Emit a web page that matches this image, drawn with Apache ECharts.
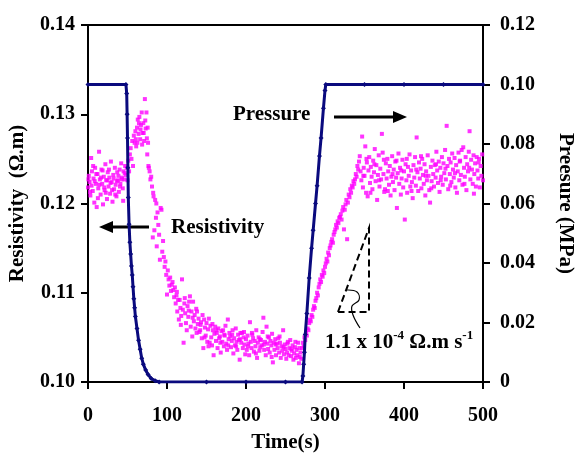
<!DOCTYPE html>
<html><head><meta charset="utf-8">
<script src="https://cdn.jsdelivr.net/npm/echarts/dist/echarts.min.js"></script>
<style>html,body{margin:0;padding:0;background:#fff}#c{width:576px;height:458px}</style>
</head><body><div id="c"></div>
<script>
// ---- Data ----
const xMin = 0, xMax = 500, xStep = 100;
const resMin = 0.10, resMax = 0.14, resStep = 0.01;
const presMin = 0, presMax = 0.12, presStep = 0.02;

// Pressure (MPa) vs time (s)
const pressure = [[0,0.100],[48,0.100],[49,0.097],[49.5,0.090],[50,0.082],[50.5,0.072],[51,0.062],[52,0.053],[53,0.047],[54,0.043],[55,0.039],[56,0.036],[57,0.032],[58,0.028],[59,0.025],[60,0.022],[62,0.018],[64,0.014],[66,0.011],[68,0.008],[70,0.006],[73,0.004],[76,0.0025],[80,0.0012],[85,0.0004],[90,0],[150,0],[200,0],[250,0],[271,0],[272,0.002],[273,0.006],[274,0.010],[275,0.016],[277,0.023],[280,0.035],[283,0.045],[285,0.051],[288,0.060],[290,0.066],[293,0.076],[295,0.082],[298,0.092],[300,0.098],[301,0.100],[350,0.100],[400,0.100],[450,0.100],[500,0.100]];

// Resistivity (Ohm.m) vs time (s)
const resBefore = [[0,0.1218],[1,0.1231],[2,0.1224],[3,0.1209],[4,0.1251],[5,0.1236],[6,0.1214],[7,0.1228],[8,0.1201],[9,0.1240],[10,0.1222],[11,0.1196],[12,0.1233],[13,0.1217],[14,0.1258],[15,0.1227],[16,0.1210],[17,0.1238],[18,0.1222],[19,0.1199],[20,0.1230],[21,0.1215],[22,0.1244],[23,0.1226],[24,0.1205],[25,0.1235],[26,0.1219],[27,0.1229],[28,0.1211],[29,0.1247],[30,0.1224],[31,0.1202],[32,0.1232],[33,0.1216],[34,0.1240],[35,0.1221],[36,0.1208],[37,0.1235],[38,0.1226],[39,0.1213],[40,0.1238],[41,0.1222],[42,0.1245],[43,0.1229],[44,0.1217],[45,0.1236],[46,0.1227],[47,0.1242],[48,0.1232],
[0.5,0.1227],[2.5,0.1213],[4.5,0.1220],[6.5,0.1242],[8.5,0.1225],[10.5,0.1233],[12.5,0.1206],[14.5,0.1221],[16.5,0.1229],[18.5,0.1237],[20.5,0.1218],[22.5,0.1212],[24.5,0.1226],[26.5,0.1238],[28.5,0.1223],[30.5,0.1215],[32.5,0.1228],[34.5,0.1210],[36.5,0.1225],[38.5,0.1231],[40.5,0.1219],[42.5,0.1227],[44.5,0.1203],[46.5,0.1234]];

const resPeak = [[49,0.1240],[50,0.1226],[51,0.1248],[52,0.1236],[53,0.1255],[54,0.1262],[55,0.1250],[56,0.1270],[57,0.1242],[58,0.1276],[59,0.1268],[60,0.1281],[61,0.1264],[62,0.1285],[63,0.1294],[64,0.1278],[65,0.1297],[66,0.1272],[67,0.1288],[68,0.1302],[69,0.1279],[70,0.1290],[71,0.1270],[72,0.1317],[73,0.1284],[74,0.1302],[75,0.1255],[76,0.1268],[76.5,0.1242],[77,0.1240],
[60.5,0.1272],[62.5,0.1268],[64.5,0.1290],[66.5,0.1283],[68.5,0.1266],[70.5,0.1279],[72.5,0.1293],[74.5,0.1273],[75.5,0.1285],
[78,0.1236],[79,0.1227],[80,0.1230],[81,0.1219],[82,0.1162],[82.5,0.1212],[83,0.1208],[84,0.1170],[85,0.1204],[86,0.1184],[86.5,0.1200],[87,0.1152],[88,0.1190],[89,0.1176],[90,0.1165],[91,0.1137],[92,0.1195],[93,0.1193],[94,0.1146],[95,0.1158],[96,0.1140],[97,0.1129],[98,0.1135],[99,0.1120],[100,0.1098],[101,0.1125],[102,0.1115],[103,0.1108],[104,0.1117],[105,0.1102],[106,0.1109],[107,0.1112],[108,0.1103],[109,0.1095],[110,0.1106]];

const resLow = [[111,0.1088],[112,0.1097],[113,0.1079],[114,0.1092],[115,0.1070],[116,0.1092],[117,0.1083],[118,0.1074],[119,0.1115],[120,0.1081],[121,0.1044],[122,0.1088],[123,0.1077],[124,0.1066],[125,0.1058],[126,0.1085],[127,0.1073],[128,0.1090],[129,0.1096],[130,0.1062],[131,0.1079],[132,0.1051],[133,0.1090],[134,0.1068],[135,0.1075],[136,0.1060],[137,0.1082],[138,0.1079],[139,0.1065],[140,0.1071],
[141,0.1056],[142,0.1058],[143,0.1067],[144,0.1049],[145,0.1075],[146,0.1038],[147,0.1070],[148,0.1061],[149,0.1052],[150,0.1066],[151,0.1045],[152,0.1059],[153,0.1071],[154,0.1044],[155,0.1063],[156,0.1050],[157,0.1041],[158,0.1058],[159,0.1030],[160,0.1054],[161,0.1062],[162,0.1046],[163,0.1055],[164,0.1038],[165,0.1060],[166,0.1049],[167,0.1051],[168,0.1033],[169,0.1057],[170,0.1045],[171,0.1058],[172,0.1040],[173,0.1052],[174,0.1063],[175,0.1043],[176,0.1036],[177,0.1070],[178,0.1048],[179,0.1055],[180,0.1051],[181,0.1039],[182,0.1046],[183,0.1058],[184,0.1032],[185,0.1049],[186,0.1041],[187,0.1060],[188,0.1045],[189,0.1036],[190,0.1053],[191,0.1047],[192,0.1025],[193,0.1055],[194,0.1044],[195,0.1055],[196,0.1038],[197,0.1050],[198,0.1042],[199,0.1031],[200,0.1048],
[201,0.1036],[202,0.1052],[203,0.1043],[204,0.1030],[205,0.1067],[206,0.1045],[207,0.1038],[208,0.1053],[209,0.1049],[210,0.1034],[211,0.1046],[212,0.1040],[213,0.1058],[214,0.1027],[215,0.1044],[216,0.1050],[217,0.1035],[218,0.1039],[219,0.1047],[220,0.1041],[221,0.1056],[222,0.1072],[223,0.1036],[224,0.1045],[225,0.1030],[226,0.1062],[227,0.1043],[228,0.1037],[229,0.1050],[230,0.1033],[231,0.1046],[232,0.1041],[233,0.1054],[234,0.1022],[235,0.1044],[236,0.1036],[237,0.1048],[238,0.1030],[239,0.1043],[240,0.1038],[241,0.1049],[242,0.1033],[243,0.1044],[244,0.1027],[245,0.1040],[246,0.1035],[247,0.1058],[248,0.1031],[249,0.1042],[250,0.1037],[251,0.1026],[252,0.1033],[253,0.1045],[254,0.1030],[255,0.1038],[256,0.1047],[257,0.1029],[258,0.1035],[259,0.1041],[260,0.1025],[261,0.1032],[262,0.1039],[263,0.1027],[264,0.1036],[265,0.1030],[266,0.1044],[267,0.1021],[268,0.1028],[269,0.1033],[270,0.1026],
[112.5,0.1101],[117.5,0.1064],[122.5,0.1094],[127.5,0.1080],[132.5,0.1072],[137.5,0.1055],[142.5,0.1064],[147.5,0.1050],[152.5,0.1040],[157.5,0.1065],[162.5,0.1058],[167.5,0.1044],[172.5,0.1053],[177.5,0.1041],[182.5,0.1053],[187.5,0.1040],[192.5,0.1048],[197.5,0.1056],[202.5,0.1040],[207.5,0.1055],[212.5,0.1032],[217.5,0.1048],[222.5,0.1042],[227.5,0.1051],[232.5,0.1028],[237.5,0.1042],[242.5,0.1051],[247.5,0.1039],[252.5,0.1043],[257.5,0.1037],[262.5,0.1045],[267.5,0.1038]];

const resRise = [[271,0.1038],[272,0.1044],[273,0.1040],[274,0.1050],[275,0.1047],[276,0.1055],[277,0.1052],[278,0.1060],[279,0.1058],[280,0.1066],[281,0.1070],[282,0.1068],[283,0.1075],[284,0.1073],[285,0.1081],[286,0.1085],[287,0.1083],[288,0.1091],[289,0.1094],[290,0.1100],[291,0.1097],[292,0.1106],[293,0.1110],[294,0.1115],[295,0.1112],[296,0.1120],[297,0.1118],[298,0.1125],[299,0.1122],[300,0.1129],[301,0.1133],[302,0.1138],[303,0.1135],[304,0.1145],[305,0.1142],[306,0.1150],[307,0.1153],[308,0.1157],[309,0.1160],[310,0.1156],[311,0.1165],[312,0.1168],[313,0.1171],[314,0.1176],[315,0.1173],[316,0.1180],[317,0.1178],[318,0.1184],[319,0.1185],[320,0.1188],[321,0.1182],[322,0.1192],[323,0.1196],[324,0.1171],[325,0.1193],[326,0.1199],[327,0.1204],[328,0.1160],[329,0.1201],[330,0.1210],[331,0.1207],[332,0.1216],[333,0.1212],[334,0.1220],[335,0.1218],[336,0.1225],[337,0.1222],[338,0.1227],[339,0.1233],[340,0.1230],[341,0.1242],[342,0.1238],[343,0.1247],[344,0.1253],[345,0.1236]];

const resAfter = [[346,0.1226],[347,0.1275],[348,0.1218],[349,0.1240],[350,0.1231],[351,0.1264],[352,0.1212],[353,0.1246],[354,0.1208],[355,0.1237],[356,0.1252],[357,0.1223],[358,0.1241],[359,0.1230],[360,0.1216],[361,0.1248],[362,0.1235],[363,0.1261],[364,0.1225],[365,0.1243],[366,0.1204],[367,0.1232],[368,0.1254],[369,0.1219],[370,0.1239],[371,0.1227],[372,0.1278],[373,0.1257],[374,0.1233],[375,0.1213],[376,0.1216],[377,0.1245],[378,0.1228],[379,0.1250],[380,0.1236],[381,0.1221],[382,0.1242],[383,0.1209],[384,0.1230],[385,0.1253],[386,0.1224],[387,0.1238],[388,0.1215],[389,0.1247],[390,0.1229],[391,0.1195],[392,0.1234],[393,0.1256],[394,0.1222],[395,0.1240],[396,0.1210],[397,0.1228],[398,0.1249],[399,0.1218],[400,0.1236],
[401,0.1182],[402,0.1244],[403,0.1226],[404,0.1212],[405,0.1241],[406,0.1231],[407,0.1255],[408,0.1219],[409,0.1237],[410,0.1224],[411,0.1206],[412,0.1243],[413,0.1229],[414,0.1252],[415,0.1220],[416,0.1274],[417,0.1235],[418,0.1214],[419,0.1246],[420,0.1228],[421,0.1239],[422,0.1217],[423,0.1250],[424,0.1232],[425,0.1222],[426,0.1244],[427,0.1209],[428,0.1236],[429,0.1226],[430,0.1254],[431,0.1231],[432,0.1215],[433,0.1201],[434,0.1241],[435,0.1225],[436,0.1248],[437,0.1233],[438,0.1219],[439,0.1243],[440,0.1229],[441,0.1258],[442,0.1237],[443,0.1223],[444,0.1247],[445,0.1213],[446,0.1240],[447,0.1230],[448,0.1252],[449,0.1221],[450,0.1245],
[451,0.1234],[452,0.1260],[453,0.1227],[454,0.1287],[455,0.1242],[456,0.1216],[457,0.1250],[458,0.1233],[459,0.1246],[460,0.1224],[461,0.1256],[462,0.1238],[463,0.1229],[464,0.1251],[465,0.1218],[466,0.1243],[467,0.1212],[468,0.1236],[469,0.1257],[470,0.1226],[471,0.1248],[472,0.1232],[473,0.1260],[474,0.1221],[475,0.1263],[476,0.1240],[477,0.1230],[478,0.1252],[479,0.1215],[480,0.1244],[481,0.1236],[482,0.1258],[483,0.1281],[484,0.1227],[485,0.1249],[486,0.1238],[487,0.1222],[488,0.1254],[489,0.1233],[490,0.1245],[491,0.1219],[492,0.1252],[493,0.1237],[494,0.1228],[495,0.1250],[496,0.1218],[497,0.1242],[498,0.1231],[499,0.1255],[500,0.1226],
[348.5,0.1231],[352.5,0.1250],[357.5,0.1212],[362.5,0.1244],[368.5,0.1226],[374.5,0.1249],[379.5,0.1214],[385.5,0.1233],[390.5,0.1248],[396.5,0.1237],[403.5,0.1250],[409.5,0.1214],[415.5,0.1238],[421.5,0.1253],[427.5,0.1231],[434.5,0.1217],[440.5,0.1244],[446.5,0.1226],[452.5,0.1239],[458.5,0.1220],[464.5,0.1234],[470.5,0.1247],[476.5,0.1222],[482.5,0.1240],[488.5,0.1211],[494.5,0.1246]];

const resistivity = resBefore.concat(resPeak, resLow, resRise, resAfter);

// ---- Chart ----
const FONT = '"Liberation Serif", "Times New Roman", serif';
const chart = echarts.init(document.getElementById('c'), null, {renderer: 'canvas'});
const tickLabel = {fontFamily: FONT, fontWeight: 'bold', fontSize: 20, color: '#000'};
const nameStyle = {fontFamily: FONT, fontWeight: 'bold', fontSize: 21, color: '#000'};
const axLine = {show: true, lineStyle: {color: '#000', width: 2}};
const axTick = {show: true, inside: false, length: 7, lineStyle: {color: '#000', width: 2}};

chart.setOption({
  backgroundColor: '#ffffff',
  animation: false,
  grid: {left: 88, right: 93, top: 25, bottom: 76, containLabel: false, outerBoundsMode: 'none', show: true, borderColor: '#000', borderWidth: 2, backgroundColor: 'transparent'},
  xAxis: {
    type: 'value', min: xMin, max: xMax, interval: xStep,
    name: 'Time(s)', nameLocation: 'middle', nameGap: 50, nameTextStyle: nameStyle,
    axisLine: axLine, axisTick: axTick, splitLine: {show: false},
    axisLabel: Object.assign({margin: 24}, tickLabel)
  },
  yAxis: [{
    type: 'value', min: resMin, max: resMax, interval: resStep, position: 'left',
    name: 'Resistivity  (\u03A9.m)', nameLocation: 'middle', nameGap: 60, nameRotate: 90, nameTextStyle: nameStyle,
    axisLine: axLine, axisTick: axTick, splitLine: {show: false},
    axisLabel: Object.assign({margin: 13, formatter: v => v.toFixed(2)}, tickLabel)
  }, {
    type: 'value', min: presMin, max: presMax, interval: presStep, position: 'right',
    name: 'Preesure (MPa)', nameLocation: 'middle', nameGap: 72, nameRotate: -90, nameTextStyle: nameStyle,
    axisLine: axLine, axisTick: axTick, splitLine: {show: false},
    axisLabel: Object.assign({margin: 17, formatter: v => v === 0 ? '0' : v.toFixed(2)}, tickLabel)
  }],
  series: [{
    type: 'scatter', name: 'Resistivity', yAxisIndex: 0, data: resistivity,
    symbol: 'rect', symbolSize: 4, itemStyle: {color: '#FF00FF'}, z: 2
  }, {
    type: 'line', name: 'Pressure', yAxisIndex: 1, data: pressure,
    symbol: 'diamond', symbolSize: 5, showAllSymbol: true,
    lineStyle: {color: '#0A0A7E', width: 3}, itemStyle: {color: '#0A0A7E'}, z: 3
  }],
  graphic: [
    {type: 'text', left: 233, top: 104, style: {text: 'Pressure', font: 'bold 21px ' + FONT, fill: '#000'}},
    {type: 'line', shape: {x1: 334, y1: 117, x2: 396, y2: 117}, style: {stroke: '#000', lineWidth: 3}},
    {type: 'polygon', shape: {points: [[393, 111], [407, 117], [393, 123]]}, style: {fill: '#000'}},
    {type: 'text', left: 171, top: 217, style: {text: 'Resistivity', font: 'bold 21px ' + FONT, fill: '#000'}},
    {type: 'line', shape: {x1: 110, y1: 227, x2: 149, y2: 227}, style: {stroke: '#000', lineWidth: 3}},
    {type: 'polygon', shape: {points: [[113, 221], [99, 227], [113, 233]]}, style: {fill: '#000'}},
    {type: 'polyline', shape: {points: [[338, 312], [369, 228], [369, 312], [338, 312]]}, style: {stroke: '#000', lineWidth: 2, lineDash: [7, 4], fill: null}},
    {type: 'polyline', shape: {points: [[347, 290], [357, 292], [359, 300], [352, 306], [353, 315], [360, 328]], smooth: 0.4}, style: {stroke: '#000', lineWidth: 1.2, fill: null}},
    {type: 'text', left: 325, top: 329, style: {
      text: '{a|1.1 x 10}{s|-4}{a| \u03A9.m s}{s|-1}',
      rich: {
        a: {font: 'bold 21px ' + FONT, fill: '#000', lineHeight: 24, verticalAlign: 'bottom'},
        s: {font: 'bold 13px ' + FONT, fill: '#000', lineHeight: 24, verticalAlign: 'top'}
      }
    }}
  ]
});
</script>
</body></html>
